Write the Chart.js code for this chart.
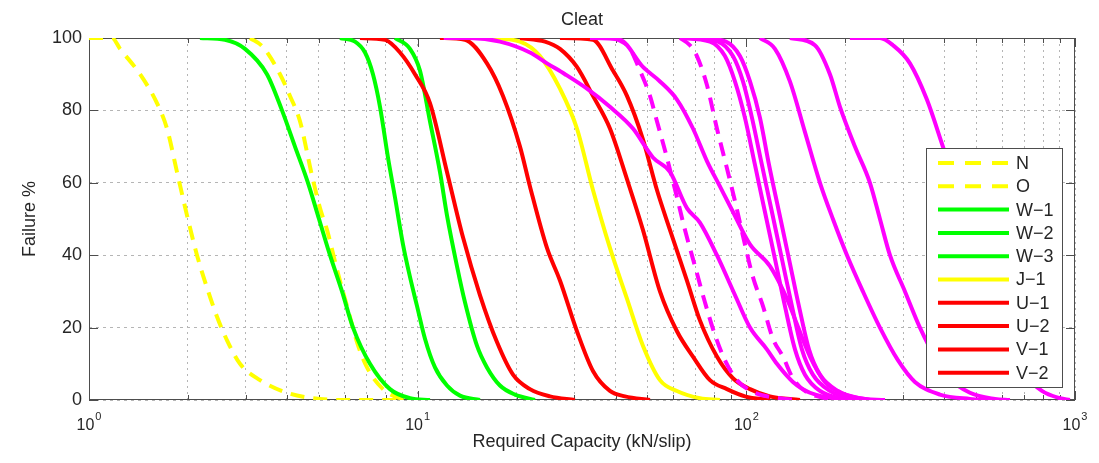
<!DOCTYPE html>
<html>
<head>
<meta charset="utf-8">
<title>Cleat</title>
<script src="https://cdn.jsdelivr.net/npm/chart.js@4.4.1/dist/chart.umd.min.js"></script>
<style>
  html, body { margin: 0; padding: 0; background: #fff; }
  #wrap { width: 1099px; height: 463px; position: relative; }
</style>
</head>
<body>
<div id="wrap"><canvas id="cleatChart"></canvas></div>
<script>
const seriesN = [[1,100],[1.175,100],[1.243,97],[1.43,90],[1.61,82],[1.727,75],[1.852,63],[1.987,51],[2.131,40],[2.286,31],[2.452,23],[2.63,16.5],[2.88,10],[3.313,5.5],[4.004,2],[4.803,0.5],[5.926,0],[8.835,0]];
const seriesO = [[3.089,100],[3.384,97.5],[3.812,90],[4.088,84],[4.385,77],[4.769,62],[5.044,53],[5.298,47],[5.721,35],[6.137,25],[6.537,16],[7.013,9],[7.844,3],[8.835,0.5],[10.16,0]];
const seriesW1 = [[2.176,100],[2.593,99.5],[2.983,97],[3.479,90],[3.866,80],[4.234,70],[4.638,60],[5.01,50],[5.411,40],[5.886,30],[6.358,20],[7.16,10],[8.236,3],[9.476,0.5],[10.9,0]];
const seriesW2 = [[5.801,100],[6.447,99],[6.916,96],[7.311,90],[7.681,81],[8.122,67],[8.53,56],[9.022,43],[9.476,34],[9.952,26],[10.52,17],[11.29,9],[12.28,4],[13.45,1.2],[15.47,0]];
const seriesW3 = [[8.53,100],[9.476,97],[10.16,91],[10.9,77],[11.69,63],[12.28,51],[13.17,37],[13.93,27],[15.15,15],[16.25,9],[17.8,4],[19.77,1.5],[22.74,0]];
const seriesJ1 = [[16.6,100],[20.48,99],[23.56,95],[27.1,86],[30.52,75],[34.15,58],[38.46,42],[43.33,28],[48.46,15],[54.6,5.5],[61.5,2.5],[72.24,0.5],[83.11,0]];
const seriesU1 = [[6.675,100],[7.954,99.5],[8.835,96],[9.813,90],[10.9,82],[12.28,63],[13.73,45],[15.47,29],[17.43,16],[19.5,7],[21.96,3],[25.26,1],[30.1,0]];
const seriesU2 = [[11.69,100],[13.93,99.5],[16.25,93],[18.18,84],[20.48,70],[21.96,59],[24.74,42],[27.1,33],[30.52,19],[34.15,8],[38.46,2.5],[42.72,1],[50.91,0]];
const seriesV1 = [[20.48,100],[24.4,99],[27.1,97],[30.52,92],[34.15,84],[38.46,75],[43.33,61],[48.46,47],[54.6,30],[61.5,19],[68.8,12],[77.5,5.5],[87.3,3],[99.03,1],[118,0]];
const seriesV2 = [[27.1,100],[34.15,99.5],[39.28,91],[43.33,84],[48.46,72],[53.46,58],[58.56,47],[65.96,33],[72.24,22],[81.38,12],[91.03,6],[102.6,3],[118,1],[145.6,0]];

// magenta runs (not named in the legend)
const seriesM1 = [[12,100],[14.43,100],[17.8,99],[21.96,96],[24.74,93],[28.07,90],[32.74,86],[38.46,81],[45.19,75],[51.98,67],[58.56,63],[65.96,53],[72.24,49],[81.38,40],[92.33,29],[102.6,20],[115.5,14],[123.9,10],[138.6,5],[156.2,2],[192.7,0.3],[237.7,0]];
const seriesM2 = [[33.44,100],[41.26,99.5],[48.46,92],[54.6,88],[61.5,83],[68.8,75],[75.88,66],[83.11,59],[91.03,52],[102.6,43],[118,37],[132.9,28],[142.5,21],[156.2,12],[173.4,5],[199.5,1.5],[237.7,0]];
const seriesM3 = [[39.84,100],[44.26,97],[47.47,91],[50.91,84],[53.46,77],[56.55,69],[61.5,56],[65.05,47],[69.77,37],[74.83,27],[80.25,18],[86.07,11],[93.63,5.5],[106.2,2],[126.6,0.5],[145.6,0]];
const seriesM4 = [[62.81,100],[67.36,98],[70.74,95],[75.88,87],[81.38,75],[87.3,64],[92.33,55],[99,43],[104.7,34],[112.3,26],[120.4,17],[129.2,12],[138.6,6],[150.8,2.5],[173.4,0.5],[192.7,0]];
const seriesB1 = [[62.81,100],[77.5,99],[86.07,95],[92.33,88],[99,78],[106.2,65],[113.9,52],[122.2,39],[131,26],[140.6,14],[150.8,7],[167.5,2.5],[192.7,0.5],[221.6,0]];
const seriesB2 = [[67.36,100],[81.95,99],[91.03,95],[97.65,88],[104,78],[111.5,65],[119.6,52],[128.3,39],[137.6,26],[147.6,14],[159.4,7],[179.6,2.5],[206.6,0.5],[237.7,0]];
const seriesB3 = [[72.24,100],[86.67,99],[95.61,95],[102.6,88],[110,78],[117.2,65],[125.7,52],[134.8,39],[144.5,26],[155.1,14],[167.5,7],[190,2.5],[221.6,0.5],[264.1,0]];
const seriesMa = [[110,100],[122.2,97],[135.7,88],[150.8,74],[167.5,60],[183.4,50],[202.4,40],[226.3,30],[255,20],[289.2,11],[325.8,5],[388.1,1.5],[479,0.3],[551,0]];
const seriesMb = [[135.7,100],[161.7,98],[179.6,90],[192.7,81],[214,70],[237.7,60],[255,50],[273.5,40],[303.8,30],[337.5,20],[374.8,12],[416.3,6],[479,2],[570.5,0.3],[633.9,0]];
const seriesMr = [[206.6,100],[255,100],[279.3,98],[314.6,93],[354.3,83],[396.4,70],[431.1,60],[472.3,48],[531.9,32],[612,17],[704.1,7],[793.1,2.5],[899.7,0.5],[965,0]];

// axis ticks
const xMajorTicks = [1, 10, 100, 1000];
const xMajorExponents = ['0', '1', '2', '3'];
const yTickStep = 20;

const FONT = "'Liberation Sans', Arial, Helvetica, sans-serif";
const TEXT = '#262626';
const YELLOW = '#ffff00', GREEN = '#00ff00', RED = '#ff0000', MAGENTA = '#ff00ff';
const DASH = [14, 9];

// minor grid positions 1..9 per decade
const xGridTicks = [];
for (let d = 1; d < 1000; d *= 10) {
    for (let k = 1; k < 10; k++) xGridTicks.push(k * d);
}
xGridTicks.push(1000);

function makeLine(label, points, color, dashed, inLegend) {
    return {
        label: label,
        data: points.map(p => ({ x: p[0], y: p[1] })),
        borderColor: color,
        backgroundColor: color,
        borderWidth: 4,
        borderDash: dashed ? DASH : [],
        cubicInterpolationMode: 'monotone',
        pointRadius: 0,
        fill: false,
        showInLegend: inLegend
    };
}

const datasets = [
    makeLine('N', seriesN, YELLOW, true, true),
    makeLine('O', seriesO, YELLOW, true, true),
    makeLine('W\u22121', seriesW1, GREEN, false, true),
    makeLine('W\u22122', seriesW2, GREEN, false, true),
    makeLine('W\u22123', seriesW3, GREEN, false, true),
    makeLine('J\u22121', seriesJ1, YELLOW, false, true),
    makeLine('U\u22121', seriesU1, RED, false, true),
    makeLine('U\u22122', seriesU2, RED, false, true),
    makeLine('V\u22121', seriesV1, RED, false, true),
    makeLine('V\u22122', seriesV2, RED, false, true),
    makeLine('', seriesM1, MAGENTA, false, false),
    makeLine('', seriesM2, MAGENTA, false, false),
    makeLine('', seriesM3, MAGENTA, true, false),
    makeLine('', seriesM4, MAGENTA, true, false),
    makeLine('', seriesB1, MAGENTA, false, false),
    makeLine('', seriesB2, MAGENTA, false, false),
    makeLine('', seriesB3, MAGENTA, false, false),
    makeLine('', seriesMa, MAGENTA, false, false),
    makeLine('', seriesMb, MAGENTA, false, false),
    makeLine('', seriesMr, MAGENTA, false, false)
];
// later series on top, like the original plot
datasets.forEach((ds, i) => { ds.order = -i; });

function isDecade(v) {
    const l = Math.log10(v);
    return Math.abs(l - Math.round(l)) < 1e-9;
}

// axes box, inward ticks, labels and legend
const matlabFrame = {
    id: 'matlabFrame',
    beforeDatasetsDraw(chart) {
        const { ctx, chartArea: a, scales: { x, y } } = chart;
        ctx.save();
        ctx.strokeStyle = '#4d4d4d';
        ctx.lineWidth = 1;
        ctx.strokeRect(a.left + 0.5, a.top + 0.5, a.right - a.left - 1, a.bottom - a.top - 1);
        ctx.beginPath();
        x.ticks.forEach(t => {
            const px = Math.round(x.getPixelForValue(t.value)) + 0.5;
            const len = isDecade(t.value) ? 9 : 5;
            ctx.moveTo(px, a.bottom); ctx.lineTo(px, a.bottom - len);
            ctx.moveTo(px, a.top); ctx.lineTo(px, a.top + len);
        });
        y.ticks.forEach(t => {
            const py = Math.round(y.getPixelForValue(t.value)) + 0.5;
            ctx.moveTo(a.left, py); ctx.lineTo(a.left + 9, py);
            ctx.moveTo(a.right, py); ctx.lineTo(a.right - 9, py);
        });
        ctx.stroke();
        ctx.restore();
    },
    afterDraw(chart) {
        const { ctx, chartArea: a, scales: { x } } = chart;
        const midX = (a.left + a.right) / 2;
        ctx.save();
        ctx.fillStyle = TEXT;

        // 10^n tick labels
        xMajorTicks.forEach((v, i) => {
            const px = x.getPixelForValue(v);
            ctx.font = '16px ' + FONT;
            const w1 = ctx.measureText('10').width;
            ctx.font = '11px ' + FONT;
            const w2 = ctx.measureText(xMajorExponents[i]).width;
            const left = px - (w1 + w2 + 1) / 2;
            ctx.textAlign = 'left';
            ctx.textBaseline = 'alphabetic';
            ctx.font = '16px ' + FONT;
            ctx.fillText('10', left, a.bottom + 30);
            ctx.font = '11px ' + FONT;
            ctx.fillText(xMajorExponents[i], left + w1 + 1, a.bottom + 20);
        });

        ctx.font = '18px ' + FONT;
        ctx.textAlign = 'center';
        ctx.textBaseline = 'alphabetic';
        ctx.fillText('Cleat', midX, 25);
        ctx.fillText('Required Capacity (kN/slip)', midX, 447);

        ctx.save();
        ctx.translate(30, (a.top + a.bottom) / 2);
        ctx.rotate(-Math.PI / 2);
        ctx.textBaseline = 'middle';
        ctx.fillText('Failure %', 0, 0);
        ctx.restore();

        // legend box
        const items = chart.data.datasets.filter(ds => ds.showInLegend);
        const boxL = 926, boxT = 148, boxR = 1063, boxB = 388;
        ctx.fillStyle = '#ffffff';
        ctx.fillRect(boxL, boxT, boxR - boxL, boxB - boxT);
        ctx.strokeStyle = '#4d4d4d';
        ctx.lineWidth = 1;
        ctx.strokeRect(boxL + 0.5, boxT + 0.5, boxR - boxL - 1, boxB - boxT - 1);
        items.forEach((ds, i) => {
            const ry = 163 + i * 23.3;
            ctx.beginPath();
            ctx.strokeStyle = ds.borderColor;
            ctx.lineWidth = ds.borderWidth;
            ctx.setLineDash(ds.borderDash.length ? [16, 11] : []);
            ctx.moveTo(938, ry);
            ctx.lineTo(1009, ry);
            ctx.stroke();
            ctx.setLineDash([]);
            ctx.fillStyle = TEXT;
            ctx.font = '18px ' + FONT;
            ctx.textAlign = 'left';
            ctx.textBaseline = 'middle';
            ctx.fillText(ds.label, 1016, ry + 1);
        });
        ctx.restore();
    }
};

const chart = new Chart(document.getElementById('cleatChart'), {
    type: 'line',
    data: { datasets: datasets },
    options: {
        responsive: true,
        maintainAspectRatio: false,
        animation: false,
        devicePixelRatio: 1,
        layout: { padding: { left: 0, right: 24, top: 38, bottom: 0 } },
        plugins: {
            legend: { display: false },
            tooltip: { enabled: false },
            title: { display: false }
        },
        scales: {
            x: {
                type: 'logarithmic',
                min: 1,
                max: 1000,
                afterBuildTicks: scale => { scale.ticks = xGridTicks.map(v => ({ value: v })); },
                ticks: { display: false },
                grid: { color: '#b5b5b5', lineWidth: 1, drawTicks: false, borderDash: [2, 4] },
                border: { display: false, dash: [2, 4] },
                afterFit: scale => { scale.height = 63; }
            },
            y: {
                min: 0,
                max: 100,
                ticks: { stepSize: yTickStep, padding: 7, color: TEXT, font: { family: FONT, size: 18 } },
                grid: { color: '#b5b5b5', lineWidth: 1, drawTicks: false, borderDash: [3, 4] },
                border: { display: false, dash: [3, 4] },
                afterFit: scale => { scale.width = 89; }
            }
        }
    },
    plugins: [matlabFrame]
});
</script>
</body>
</html>
